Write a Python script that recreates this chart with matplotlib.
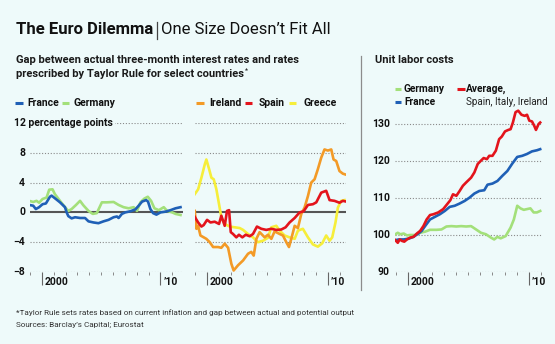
import matplotlib
matplotlib.use("Agg")
from matplotlib import pyplot as plt
from matplotlib.lines import Line2D

plt.rcParams['font.family'] = ['Liberation Sans Narrow', 'Roboto', 'DejaVu Sans']

# --- interest rate gap vs Taylor Rule, percentage points --- #
france_years = [1998.93, 1999.27, 1999.49, 1999.77, 2000.06, 2000.34, 2000.68, 2000.82, 2001.10, 2001.53,
                2001.95, 2002.09, 2002.23, 2002.51, 2002.80, 2003.22, 2003.64, 2003.93, 2004.35, 2004.77,
                2005.20, 2005.62, 2006.05, 2006.33, 2006.47, 2006.75, 2007.03, 2007.46, 2007.88, 2008.16,
                2008.45, 2008.79, 2008.95, 2009.15, 2009.38, 2009.66, 2010.00, 2010.42, 2010.85, 2011.27,
                2011.69]
france_gap = [1.0, 0.9, 0.45, 0.7, 1.1, 1.2, 2.1, 2.25, 1.9, 1.35,
              0.7, 0.0, -0.5, -0.8, -0.65, -0.75, -0.75, -1.2, -1.35, -1.45,
              -1.2, -1.0, -0.65, -0.55, -0.75, -0.2, 0.0, 0.15, 0.4, 0.9,
              1.45, 1.65, 1.45, 0.45, -0.1, -0.3, 0.0, 0.1, 0.3, 0.55,
              0.7]

germany_years = [1998.93, 1999.27, 1999.55, 1999.77, 2000.06, 2000.40, 2000.62, 2000.90, 2001.10, 2001.53,
                 2001.95, 2002.23, 2002.51, 2002.88, 2003.22, 2003.50, 2003.93, 2004.29, 2004.63, 2005.06,
                 2005.48, 2006.05, 2006.47, 2006.89, 2007.32, 2007.74, 2008.02, 2008.31, 2008.64, 2008.93,
                 2009.21, 2009.49, 2009.86, 2010.28, 2010.56, 2010.99, 2011.27, 2011.69]
germany_gap = [1.55, 1.4, 1.55, 1.3, 1.8, 2.0, 3.05, 3.1, 2.45, 1.55,
               0.7, 0.2, 0.45, 1.0, 1.55, 0.95, 0.2, -0.2, -0.1, 1.35,
               1.35, 1.4, 1.0, 0.7, 0.55, 0.7, 0.2, 1.35, 1.85, 2.1,
               1.55, 0.55, 0.3, 0.7, 0.2, 0.0, -0.2, -0.35]

ireland_years = [1998.98, 1999.12, 1999.26, 1999.45, 1999.67, 1999.94, 2000.22, 2000.50, 2000.91, 2001.18,
                 2001.46, 2001.74, 2002.01, 2002.20, 2002.56, 2002.98, 2003.39, 2003.66, 2003.86, 2004.08,
                 2004.35, 2004.77, 2005.04, 2005.32, 2005.59, 2006.01, 2006.28, 2006.56, 2006.78, 2006.97,
                 2007.25, 2007.52, 2007.80, 2008.07, 2008.35, 2008.62, 2008.90, 2009.17, 2009.45, 2009.72,
                 2010.00, 2010.28, 2010.47, 2010.69, 2010.96, 2011.24, 2011.43]
ireland_gap = [0.2, -2.2, -1.8, -3.1, -3.3, -3.55, -4.0, -4.65, -4.65, -4.75,
               -4.2, -4.75, -6.9, -7.8, -7.1, -6.45, -5.55, -5.3, -5.8, -3.55,
               -2.65, -3.35, -3.0, -3.55, -2.55, -2.9, -3.1, -4.0, -4.65, -3.55,
               -1.8, -2.1, -0.2, 0.65, 2.2, 4.0, 4.45, 5.8, 7.35, 8.45,
               8.3, 8.45, 7.1, 6.9, 5.55, 5.2, 5.1]

spain_years = [1998.98, 1999.26, 1999.53, 1999.72, 2000.00, 2000.28, 2000.63, 2000.99, 2001.18, 2001.46,
               2001.65, 2001.82, 2001.96, 2002.15, 2002.42, 2002.64, 2002.92, 2003.20, 2003.53, 2003.80,
               2004.13, 2004.49, 2004.90, 2005.32, 2005.73, 2006.14, 2006.50, 2006.83, 2007.25, 2007.66,
               2007.99, 2008.35, 2008.76, 2009.04, 2009.45, 2009.86, 2010.14, 2010.55, 2010.96, 2011.24,
               2011.52]
spain_gap = [-0.6, -1.35, -1.9, -1.7, -1.0, -1.35, -1.25, -1.55, -0.45, -1.8,
             0.2, 0.3, -2.65, -2.9, -3.35, -3.0, -3.35, -3.0, -3.2, -2.9,
             -1.9, -2.2, -2.35, -2.2, -2.35, -2.3, -2.0, -1.35, -0.75, 0.0,
             0.15, 1.0, 1.1, 1.35, 2.65, 2.9, 1.65, 1.55, 1.3, 1.55,
             1.45]

greece_years = [1998.98, 1999.26, 1999.53, 1999.81, 1999.94, 2000.17, 2000.36, 2000.55, 2000.77, 2000.99,
                2001.18, 2001.46, 2001.87, 2002.29, 2002.70, 2002.98, 2003.39, 2003.80, 2004.21, 2004.63,
                2005.04, 2005.32, 2005.73, 2006.01, 2006.42, 2006.83, 2007.25, 2007.52, 2007.93, 2008.35,
                2008.76, 2009.17, 2009.53, 2009.86, 2010.14, 2010.36, 2010.63, 2010.83, 2011.10, 2011.38]
greece_gap = [2.45, 3.1, 4.65, 6.45, 7.1, 5.8, 4.65, 4.45, 3.1, 1.1,
              -0.65, -1.55, -1.9, -2.0, -2.1, -2.35, -2.9, -3.35, -4.0, -3.8,
              -3.4, -2.0, -1.8, -2.45, -3.1, -3.35, -3.55, -2.45, -2.2, -3.35,
              -4.3, -4.6, -4.15, -3.1, -3.8, -3.35, -1.35, 0.65, 1.55, 1.65]

# --- unit labor costs, index --- #
ulc_avg_years = [1998.96, 1999.16, 1999.32, 1999.51, 1999.70, 1999.92, 2000.19, 2000.46, 2000.74, 2001.01,
                 2001.28, 2001.55, 2001.83, 2002.10, 2002.51, 2002.92, 2003.24, 2003.51, 2003.73, 2004.01,
                 2004.28, 2004.55, 2004.82, 2005.23, 2005.50, 2005.78, 2006.05, 2006.27, 2006.54, 2006.73,
                 2007.00, 2007.28, 2007.55, 2007.77, 2008.04, 2008.31, 2008.50, 2008.69, 2008.91, 2009.13,
                 2009.40, 2009.67, 2009.86, 2010.05, 2010.27, 2010.46, 2010.60, 2010.82, 2010.95]
ulc_avg = [98.6, 97.9, 98.8, 98.4, 98.2, 98.8, 99.3, 99.5, 100.4, 101.1,
           102.4, 104.2, 105.4, 105.6, 106.1, 107.0, 108.3, 109.4, 111.0, 110.6,
           111.9, 113.3, 114.2, 115.5, 116.9, 119.2, 120.1, 120.8, 120.5, 121.4,
           121.4, 122.8, 125.9, 126.6, 128.0, 128.4, 128.6, 130.4, 133.2, 133.6,
           132.5, 132.2, 132.5, 130.9, 130.7, 129.5, 128.4, 130.0, 130.4]

ulc_france_years = [1998.96, 1999.24, 1999.65, 2000.05, 2000.46, 2000.87, 2001.14, 2001.42, 2001.83, 2002.23,
                    2002.64, 2003.05, 2003.46, 2003.87, 2004.28, 2004.69, 2005.10, 2005.50, 2005.91, 2006.32,
                    2006.59, 2007.00, 2007.41, 2007.82, 2008.23, 2008.64, 2009.05, 2009.46, 2009.86, 2010.27,
                    2010.68, 2010.95]
ulc_france = [98.6, 98.8, 98.8, 99.0, 99.5, 100.4, 101.1, 102.4, 104.2, 104.9,
              105.6, 106.5, 107.6, 107.9, 108.5, 109.2, 110.1, 111.2, 111.9, 112.1,
              113.6, 113.9, 114.6, 116.0, 117.3, 119.3, 121.1, 121.4, 121.9, 122.6,
              122.9, 123.2]

ulc_germany_years = [1998.96, 1999.16, 1999.37, 1999.65, 1999.92, 2000.19, 2000.60, 2001.01, 2001.42, 2001.83,
                     2002.37, 2002.78, 2003.19, 2003.60, 2004.01, 2004.41, 2004.82, 2005.23, 2005.64, 2006.05,
                     2006.46, 2006.87, 2007.14, 2007.41, 2007.68, 2008.09, 2008.50, 2008.77, 2009.05, 2009.32,
                     2009.59, 2009.86, 2010.14, 2010.41, 2010.68, 2010.95]
ulc_germany = [100.2, 100.6, 100.2, 100.4, 99.9, 100.0, 100.0, 100.6, 100.9, 101.4,
               101.4, 101.5, 102.3, 102.4, 102.3, 102.4, 102.3, 102.4, 101.5, 100.6,
               100.2, 99.3, 98.8, 99.5, 99.1, 99.7, 102.0, 104.2, 107.9, 107.2,
               106.8, 107.0, 107.2, 106.1, 106.1, 106.5]

gap_ticks = [12, 8, 4, 0, -4, -8]
gap_tick_labels = ['12', '8', '4', '0', '\u22124', '\u22128']
ulc_ticks = [130, 120, 110, 100, 90]
year_labels = {2000: '2000', 2010: '\u201910'}

bg = '#eefafa'
blue = '#1f60b6'
green = '#a3e07a'
orange = '#f39a26'
red = '#e3141c'
yellow = '#f6ee3a'
grid_col = '#8a8a8a'

W, H = 555, 344
fig = plt.figure(figsize=(W / 100, H / 100), dpi=100, facecolor=bg)


def px_axes(left, right, top, bottom):
    a = fig.add_axes([left / W, 1 - bottom / H, (right - left) / W, (bottom - top) / H])
    a.set_facecolor('none')
    for s in a.spines.values():
        s.set_visible(False)
    return a


def px_text(x, y, s, **kw):
    return fig.text(x / W, 1 - y / H, s, va='center', **kw)


def px_dash(x0, x1, y, color):
    fig.add_artist(Line2D([x0 / W, x1 / W], [1 - y / H, 1 - y / H], color=color, lw=2.2,
                          transform=fig.transFigure, solid_capstyle='butt'))


def style_years(a, lo, hi):
    a.set_xticks([2000, 2010])
    a.set_xticks(range(1999, 2012), minor=True)
    a.tick_params(which='major', length=9, width=0.8, color='#666666', labelbottom=False)
    a.tick_params(which='minor', length=2.5, width=0.7, color='#888888')
    a.tick_params(axis='y', left=False, labelleft=False)
    a.set_xlim(lo, hi)
    for yr, lab in year_labels.items():
        a.annotate(lab, xy=(yr, 0), xycoords=('data', 'axes fraction'), xytext=(2, -3.5),
                   textcoords='offset points', ha='left', va='top', fontsize=7.5, fontweight='bold',
                   color='#111111')


def gap_panel(a, lo, hi, labels):
    a.set_ylim(-8, 12)
    style_years(a, lo, hi)
    for v in gap_ticks:
        if v != 0:
            a.axhline(v, color=grid_col, lw=0.8, ls=(0, (1, 1.6)), zorder=1)
    a.axhline(0, color='#555555', lw=1.5, zorder=2)
    if labels:
        for v, lab in zip(gap_ticks, gap_tick_labels):
            if v == 12:
                a.annotate(lab + ' percentage points', xy=(0, v), xycoords=('axes fraction', 'data'),
                           xytext=(-11.5, 0), textcoords='offset points', ha='left', va='center',
                           fontsize=7.5, fontweight='bold', color='#111111',
                           bbox=dict(facecolor=bg, edgecolor='none', pad=1.5))
            else:
                a.annotate(lab, xy=(0, v), xycoords=('axes fraction', 'data'), xytext=(-3.6, 0),
                           textcoords='offset points', ha='right', va='center', fontsize=7.5,
                           fontweight='bold', color='#111111')


# left panel: France and Germany
ax1 = px_axes(30, 183, 123, 272)
gap_panel(ax1, 1999.0, 2011.9, True)
ax1.plot(germany_years, germany_gap, color=green, lw=1.9, zorder=3)
ax1.plot(france_years, france_gap, color=blue, lw=1.9, zorder=4)

# middle panel: Ireland, Spain, Greece
ax2 = px_axes(195, 346, 123, 272)
gap_panel(ax2, 1999.0, 2011.5, False)
ax2.plot(greece_years, greece_gap, color=yellow, lw=1.9, zorder=3)
ax2.plot(ireland_years, ireland_gap, color=orange, lw=1.9, zorder=4)
ax2.plot(spain_years, spain_gap, color=red, lw=1.9, zorder=5)

# right panel: unit labor costs
ax3 = px_axes(395, 542, 105.5, 272)
ax3.set_ylim(90, 135)
style_years(ax3, 1998.93, 2011.1)
for v in ulc_ticks:
    ax3.axhline(v, color=grid_col, lw=0.8, ls=(0, (1, 1.6)), zorder=1)
    ax3.annotate(str(v), xy=(0, v), xycoords=('axes fraction', 'data'), xytext=(-3.6, 0),
                 textcoords='offset points', ha='right', va='center', fontsize=7.5,
                 fontweight='bold', color='#111111')
ax3.plot(ulc_germany_years, ulc_germany, color=green, lw=1.9, zorder=3)
ax3.plot(ulc_france_years, ulc_france, color=blue, lw=1.9, zorder=4)
ax3.plot(ulc_avg_years, ulc_avg, color=red, lw=1.9, zorder=5)

# divider between the two charts
fig.add_artist(Line2D([360.5 / W, 360.5 / W], [1 - 56 / H, 1 - 290 / H], color='#8c8c8c', lw=0.9,
                      transform=fig.transFigure))

# headings
px_text(16, 30, 'The Euro Dilemma', fontsize=12, fontweight='bold', color='#111111')
fig.add_artist(Line2D([156.5 / W, 156.5 / W], [1 - 22 / H, 1 - 39 / H], color='#444444', lw=0.9,
                      transform=fig.transFigure))
px_text(161, 30, 'One Size Doesn\u2019t Fit All', fontsize=12, color='#111111')
px_text(16, 60, 'Gap between actual three-month interest rates and rates', fontsize=8,
        fontweight='bold', color='#1a1a1a')
sub2 = px_text(16, 74, 'prescribed by Taylor Rule for select countries', fontsize=8,
               fontweight='bold', color='#1a1a1a')
bb = sub2.get_window_extent(renderer=fig.canvas.get_renderer())
px_text(bb.x1 + 1, 71, '*', fontsize=5, color='#1a1a1a')
px_text(375, 60, 'Unit labor costs', fontsize=8, fontweight='bold', color='#1a1a1a')

# legends
px_dash(15, 23, 102.5, blue)
px_text(27, 102.5, 'France', fontsize=7.5, fontweight='bold', color='#111111')
px_dash(62, 69, 102.5, green)
px_text(73, 102.5, 'Germany', fontsize=7.5, fontweight='bold', color='#111111')
px_dash(196, 204, 102.5, orange)
px_text(209, 102.5, 'Ireland', fontsize=7.5, fontweight='bold', color='#111111')
px_dash(245, 252, 102.5, red)
px_text(259, 102.5, 'Spain', fontsize=7.5, fontweight='bold', color='#111111')
px_dash(289, 296, 102.5, yellow)
px_text(303, 102.5, 'Greece', fontsize=7.5, fontweight='bold', color='#111111')

px_dash(395, 401, 89, green)
px_text(404, 89, 'Germany', fontsize=7.3, fontweight='bold', color='#111111')
px_dash(395, 401, 102, blue)
px_text(404, 102, 'France', fontsize=7.3, fontweight='bold', color='#111111')
px_dash(457, 465, 89, red)
px_text(466, 89, 'Average,', fontsize=7.3, fontweight='bold', color='#111111')
px_text(466, 102, 'Spain, Italy, Ireland', fontsize=7.1, color='#222222')

# footnotes
px_text(16, 312.5, '*Taylor Rule sets rates based on current inflation and gap between actual and potential output',
        fontsize=5.9, color='#333333')
px_text(16, 325, 'Sources: Barclay\u2019s Capital; Eurostat', fontsize=5.9, color='#333333')

fig.savefig('out.png', dpi=100, facecolor=bg)
